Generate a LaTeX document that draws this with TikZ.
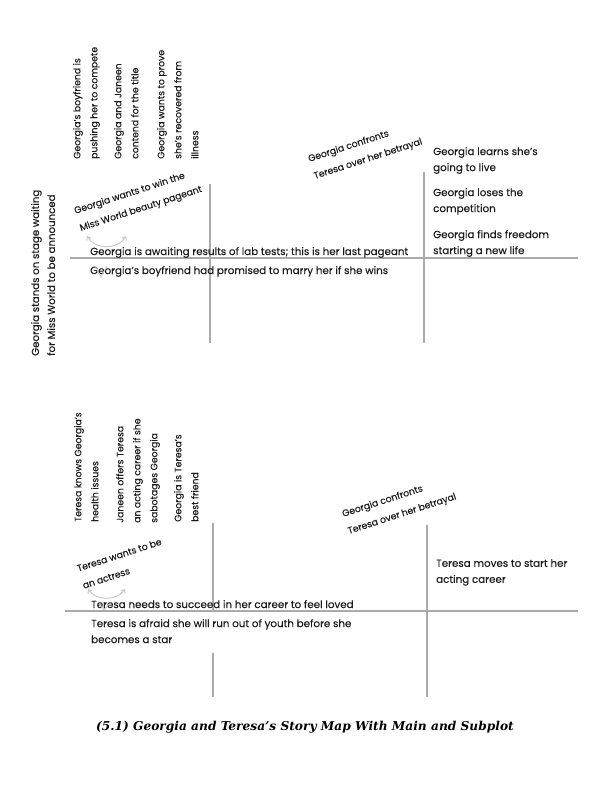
\documentclass[tikz,border=0pt]{standalone}
\usepackage{fontspec}
\setmainfont{Poppins}[FakeBold=0.2]
\newfontfamily\capfont{DejaVu Serif}
\usetikzlibrary{arrows.meta}
\definecolor{ink}{RGB}{28,28,28}
\definecolor{rule}{RGB}{170,170,170}
\definecolor{faint}{RGB}{200,200,200}
\begin{document}
\begin{tikzpicture}[x=1pt,y=-1pt,
  txt/.style={font=\fontsize{10.3}{16}\selectfont, text=ink, inner sep=0pt, align=left},
  vert/.style={txt, rotate=90, anchor=north west, font=\fontsize{9.3}{17}\selectfont},
  tilt/.style={txt, rotate=18, anchor=north west, font=\fontsize{9.3}{18}\selectfont},
  axis/.style={draw=rule, line width=1.8pt},
  swirl/.style={draw=faint, line width=1pt, {Straight Barb[length=3pt,width=5pt]}-{Straight Barb[length=3pt,width=5pt]}},
  notch/.style={draw=faint, line width=0.9pt}]
\useasboundingbox[fill=white] (0,0) rectangle (597,793);

% ---------- main plot ----------
\coordinate (mL) at (70,258);   \coordinate (mR) at (578,258);
\coordinate (m1t) at (210,184); \coordinate (m1b) at (210,343);
\coordinate (m2t) at (424,172); \coordinate (m2b) at (424,343);
\draw[axis] (mL) -- (mR);
\draw[axis] (m1t) -- (m1b);
\draw[axis] (m2t) -- (m2b);

\node[vert, font=\fontsize{10.2}{16}\selectfont] (mstage) at (31,356) {Georgia stands on stage waiting\\for Miss World to be announced};
\node[vert] (mpush) at (73,159) {Georgia's boyfriend is\\pushing her to compete};
\node[vert] (mtitle) at (114,159) {Georgia and Janeen\\contend for the title};
\node[vert] (mprove) at (157,159) {Georgia wants to prove\\she's recovered from\\illness};

\node[tilt] (mwin) at (73,207) {Georgia wants to win the\\Miss World beauty pageant};
\node[tilt] (mconf) at (307,155) {Georgia confronts\\Teresa over her betrayal};

\node[txt, anchor=north west] (mlive) at (433,147) {Georgia learns she's\\going to live};
\node[txt, anchor=north west] (mlose) at (433,188) {Georgia loses the\\competition};
\node[txt, anchor=north west] (mfree) at (433,230) {Georgia finds freedom\\starting a new life};

\node[txt, anchor=base west] (mlab) at (90,255) {Georgia is awaiting results of lab tests; this is her last pageant};
\node[txt, anchor=base west] (mmarry) at (90,274) {Georgia's boyfriend had promised to marry her if she wins};

\coordinate (ma1) at (87,236); \coordinate (ma2) at (126,236);
\draw[swirl] (ma1) .. controls (95,250) and (118,250) .. (ma2);
\coordinate (mv1) at (95,266); \coordinate (mv2) at (101,277); \coordinate (mv3) at (107,266);
\draw[notch] (mv1) -- (mv2) -- (mv3);

% ---------- subplot ----------
\coordinate (sL) at (65,611);    \coordinate (sR) at (578,611);
\coordinate (s1t) at (213,523);  \coordinate (s1m) at (213,611);
\coordinate (s1n) at (213,653);  \coordinate (s1b) at (213,697);
\coordinate (s2t) at (427,525);  \coordinate (s2b) at (427,697);
\draw[axis] (sL) -- (sR);
\draw[axis] (s1t) -- (s1m);
\draw[axis] (s1n) -- (s1b);
\draw[axis] (s2t) -- (s2b);

\node[vert] (shealth) at (74,522) {Teresa knows Georgia's\\health issues};
\node[vert] (soffer) at (116,523) {Janeen offers Teresa\\an acting career if she\\sabotages Georgia};
\node[vert] (sfriend) at (174,522) {Georgia is Teresa's\\best friend};

\node[tilt] (sactress) at (76,565) {Teresa wants to be\\an actress};
\node[tilt] (sconf) at (341,510) {Georgia confronts\\Teresa over her betrayal};

\node[txt, anchor=north west] (smove) at (436,559) {Teresa moves to start her\\acting career};
\node[txt, anchor=base west] (sloved) at (91,608) {Teresa needs to succeed in her career to feel loved};
\node[txt, anchor=north west] (syouth) at (91,619) {Teresa is afraid she will run out of youth before she\\becomes a star};

\coordinate (sa1) at (88,589); \coordinate (sa2) at (125,589);
\draw[swirl] (sa1) .. controls (96,601) and (117,601) .. (sa2);
\coordinate (sv1) at (99,604); \coordinate (sv2) at (104,610); \coordinate (sv3) at (109,604);
\draw[notch] (sv1) -- (sv2) -- (sv3);

% ---------- caption ----------
\node[font=\capfont\bfseries\itshape\fontsize{12.2}{14}\selectfont, text=black, inner sep=0pt] (cap) at (305,727)
  {(5.1) Georgia and Teresa’s Story Map With Main and Subplot};
\end{tikzpicture}
\end{document}
